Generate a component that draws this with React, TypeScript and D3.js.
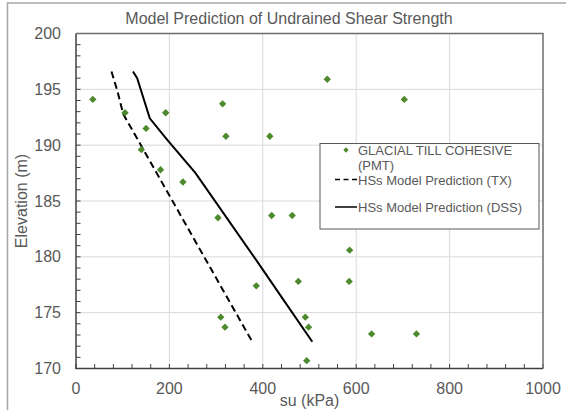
import React from "react";
import * as d3 from "d3";

const pmtSu = [36, 105, 192, 314, 150, 321, 415, 140, 181, 229, 304, 419, 463, 538, 703, 586, 386, 476, 585, 310, 319, 491, 498, 633, 729, 494];
const pmtElev = [194.1, 192.9, 192.9, 193.7, 191.5, 190.8, 190.8, 189.6, 187.8, 186.7, 183.5, 183.7, 183.7, 195.9, 194.1, 180.6, 177.4, 177.8, 177.8, 174.6, 173.7, 174.6, 173.7, 173.1, 173.1, 170.7];

const txSu = [76, 89, 101, 376];
const txElev = [196.6, 194.8, 192.8, 172.5];

const dssSu = [122, 131, 158, 195, 256, 386, 445, 506];
const dssElev = [196.6, 196.0, 192.4, 190.5, 187.5, 179.7, 176.1, 172.4];

const xTicks = [0, 200, 400, 600, 800, 1000];
const yTicks = [170, 175, 180, 185, 190, 195, 200];

const title = "Model Prediction of Undrained Shear Strength";
const xTitle = "su (kPa)";
const yTitle = "Elevation (m)";
const legendLabels = ["GLACIAL TILL COHESIVE", "(PMT)", "HSs Model Prediction (TX)", "HSs Model Prediction (DSS)"];

const W = 566, H = 410;
const L = 76, R = 543, T = 33.5, B = 368.5;
const green = "#4d8a2e";
const textCol = "#595959";
const font = "'Liberation Sans', Arial, sans-serif";

export default function App() {
  const x = d3.scaleLinear().domain([0, 1000]).range([L, R]);
  const y = d3.scaleLinear().domain([170, 200]).range([B, T]);
  const line = d3.line<[number, number]>().x(d => x(d[0])).y(d => y(d[1]));
  const tx = txSu.map((v, i) => [v, txElev[i]] as [number, number]);
  const dss = dssSu.map((v, i) => [v, dssElev[i]] as [number, number]);
  const sq = d3.symbol(d3.symbolSquare, 27)();
  const sqL = d3.symbol(d3.symbolSquare, 14)();
  const xMinor = d3.range(0, 1001, 40);
  const yMinor = d3.range(170, 201, 1);

  return (
    <svg width={W} height={H} style={{ position: "absolute", left: 0, top: 0 }} fontFamily={font}>
      <rect x={0} y={0} width={W} height={H} fill="#fff" />
      {/* outer chart frame */}
      <path d={`M7.5,${H + 2}V3H${W + 2}`} fill="none" stroke="#a6a6a6" strokeWidth={1.5} />
      <text x={289} y={24} textAnchor="middle" fontSize={16} fill={textCol}>{title}</text>
      {/* gridlines */}
      {xTicks.slice(1, -1).map(t => (
        <line key={"gx" + t} x1={x(t)} x2={x(t)} y1={T} y2={B} stroke="#d9d9d9" strokeWidth={1} />
      ))}
      {yTicks.slice(1, -1).map(t => (
        <line key={"gy" + t} x1={L} x2={R} y1={y(t)} y2={y(t)} stroke="#d9d9d9" strokeWidth={1} />
      ))}
      {/* minor ticks */}
      {xMinor.map(t => (
        <line key={"mx" + t} x1={x(t)} x2={x(t)} y1={B} y2={B - 4.5} stroke="#404040" strokeWidth={1} />
      ))}
      {yMinor.map(t => (
        <line key={"my" + t} x1={L} x2={L + 4.5} y1={y(t)} y2={y(t)} stroke="#404040" strokeWidth={1} />
      ))}
      {/* plot frame */}
      <path d={`M${L},${T}H${R}V${B}`} fill="none" stroke="#6e6e6e" strokeWidth={1.5} />
      <path d={`M${L},${T}V${B}H${R}`} fill="none" stroke="#404040" strokeWidth={1.5} />
      {/* tick labels */}
      {xTicks.map(t => (
        <text key={"xl" + t} x={x(t)} y={394} textAnchor="middle" fontSize={16} fill={textCol}>{t}</text>
      ))}
      {yTicks.map(t => (
        <text key={"yl" + t} x={61} y={y(t) + 5.5} textAnchor="end" fontSize={16} fill={textCol}>{t}</text>
      ))}
      <text x={309.5} y={406} textAnchor="middle" fontSize={16} fill={textCol}>{xTitle}</text>
      <text transform={`translate(26.5,201) rotate(-90)`} textAnchor="middle" fontSize={16} fill={textCol}>{yTitle}</text>
      {/* series */}
      <path d={line(tx) || ""} fill="none" stroke="#000" strokeWidth={2} strokeDasharray="7,4" />
      <path d={line(dss) || ""} fill="none" stroke="#000" strokeWidth={2} />
      {pmtSu.map((v, i) => (
        <path key={"p" + i} d={sq || ""} transform={`translate(${x(v)},${y(pmtElev[i])}) rotate(45)`} fill={green} />
      ))}
      {/* legend */}
      <rect x={320} y={143.5} width={219} height={85.5} fill="#fff" stroke="#595959" strokeWidth={1} />
      <path d={sqL || ""} transform="translate(346,150) rotate(45)" fill={green} />
      <text x={358} y={154.5} fontSize={13} fill={textCol}>{legendLabels[0]}</text>
      <text x={358} y={169.5} fontSize={13} fill={textCol}>{legendLabels[1]}</text>
      <line x1={335} x2={357} y1={179.5} y2={179.5} stroke="#000" strokeWidth={1.5} strokeDasharray="5,3.5" />
      <text x={358} y={184.5} fontSize={13} fill={textCol}>{legendLabels[2]}</text>
      <line x1={335} x2={357} y1={207} y2={207} stroke="#000" strokeWidth={1.5} />
      <text x={358} y={211.5} fontSize={13} fill={textCol}>{legendLabels[3]}</text>
    </svg>
  );
}
